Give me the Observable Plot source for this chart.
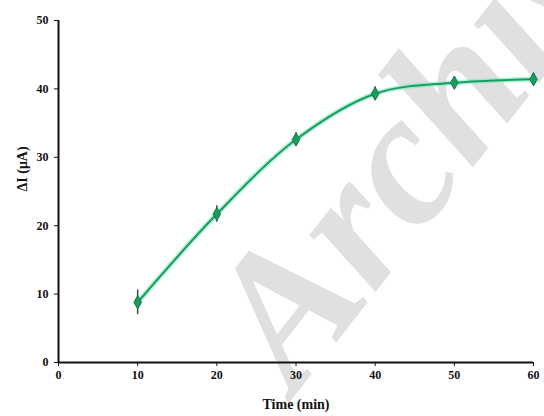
<!DOCTYPE html>
<html><head><meta charset="utf-8">
<script src="https://cdn.jsdelivr.net/npm/d3@7"></script>
<script src="https://cdn.jsdelivr.net/npm/@observablehq/plot@0.6"></script>
<style>
body{margin:0;background:#fff;}
#wrap{position:relative;width:544px;height:416px;overflow:hidden;}
#wm{position:absolute;left:170px;top:297px;font:italic bold 190px/1 "Liberation Serif",serif;color:#e0e0e0;transform-origin:0 0;transform:rotate(-52deg);white-space:nowrap;z-index:0;}
#chart{position:absolute;left:0;top:0;z-index:1;}
#chart svg{background:transparent;}
</style></head>
<body><div id="wrap"><div id="wm">Archive</div><div id="chart"></div></div>
<script>
const times = [10, 20, 30, 40, 50, 60];
const deltaI = [8.8, 21.7, 32.6, 39.3, 40.9, 41.4];
const errs = [1.8, 1.2, 1.0, 1.0, 0.9, 0.9];
const xTicks = [0, 10, 20, 30, 40, 50, 60];
const yTicks = [0, 10, 20, 30, 40, 50];
const data = times.map((t, i) => ({t, v: deltaI[i], e: errs[i]}));
const green = "#1a9d5c";
const font = "Liberation Serif, Times New Roman, serif";
const chart = Plot.plot({
  width: 544, height: 416,
  marginLeft: 58, marginRight: 11, marginTop: 20, marginBottom: 54,
  style: {fontFamily: font, fontWeight: "bold", fontSize: "12px", color: "#111", background: "transparent"},
  x: {domain: [0, 60]},
  y: {domain: [0, 50]},
  marks: [
    Plot.axisX({ticks: xTicks, tickSize: 4, tickPadding: 4, label: null}),
    Plot.axisY({ticks: yTicks, tickSize: 4, tickPadding: 6, label: null}),
    Plot.ruleX([0], {stroke: "#111", strokeWidth: 2}),
    Plot.ruleY([0], {stroke: "#111", strokeWidth: 2}),
    Plot.ruleX(data, {x: "t", y1: d => d.v - d.e, y2: d => d.v + d.e, stroke: "#2a5a40", strokeWidth: 1.5}),
    Plot.line(data, {x: "t", y: "v", curve: "catmull-rom", stroke: "#7fe8c0", strokeWidth: 5, strokeOpacity: 0.6}),
    Plot.line(data, {x: "t", y: "v", curve: "catmull-rom", stroke: green, strokeWidth: 2}),
    Plot.dot(data, {x: "t", y: "v", symbol: "diamond", r: 4, fill: green, stroke: "#157a48", strokeWidth: 1}),
    Plot.text(["ΔI (μA)"], {frameAnchor: "left", dx: -36, rotate: -90, fontSize: 14, fontWeight: "bold"}),
    Plot.text(["Time (min)"], {frameAnchor: "bottom", dy: 46, fontSize: 14, fontWeight: "bold"})
  ]
});
document.getElementById("chart").appendChild(chart);
</script></body></html>
